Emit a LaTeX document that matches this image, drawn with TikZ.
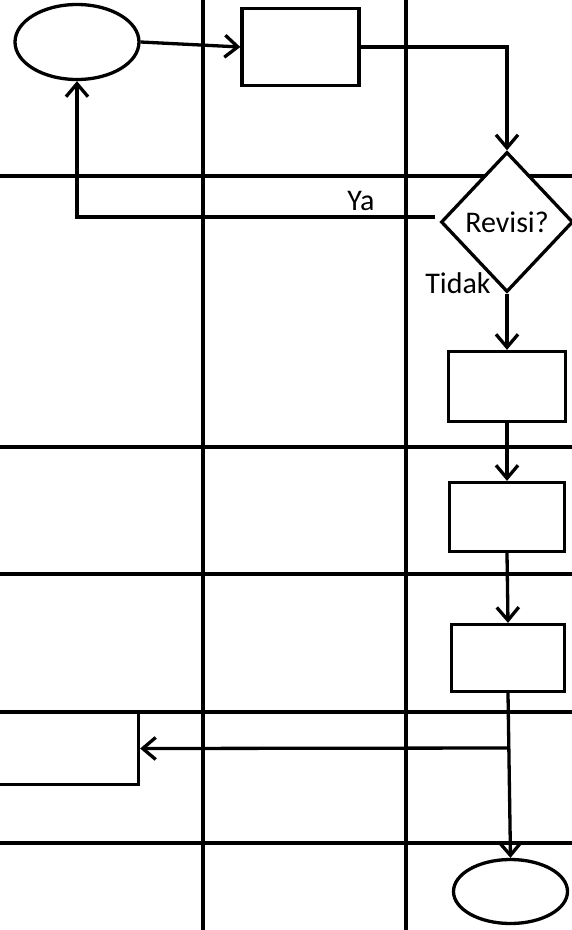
\documentclass[tikz,border=0pt]{standalone}
\usepackage{fontspec}
\setmainfont{Carlito}
\usetikzlibrary{arrows.meta,shapes.geometric}
\begin{document}
\begin{tikzpicture}[x=1pt,y=-1pt,
  gridline/.style={line width=3.3pt},
  proc/.style={draw,line width=3.3pt,fill=white,inner sep=0pt,rectangle},
  term/.style={draw,line width=3.3pt,fill=white,inner sep=0pt,ellipse},
  dec/.style={draw,line width=3.3pt,fill=white,inner sep=0pt,diamond,font=\fontsize{30}{32}\selectfont},
  conn/.style={line width=3.3pt,-{Straight Barb[length=13pt,width=22pt]}},
  lbl/.style={font=\fontsize{30}{32}\selectfont,inner sep=0pt,anchor=base}]
\clip (0,0) rectangle (572,930);
\fill[white] (0,0) rectangle (572,930);
% swimlane grid
\draw[gridline] (203,0) -- (203,930);
\draw[gridline] (406,0) -- (406,930);
\draw[gridline] (0,176) -- (572,176);
\draw[gridline] (0,447) -- (572,447);
\draw[gridline] (0,574) -- (572,574);
\draw[gridline] (0,712) -- (572,712);
\draw[gridline] (0,843) -- (572,843);
% nodes
\node[term,minimum width=124pt,minimum height=75pt] (start) at (77,42) {};
\node[proc,minimum width=117pt,minimum height=77pt] (box1) at (300.5,47) {};
\node[dec,minimum width=132pt,minimum height=140pt] (dia) at (507,222) {Revisi?};
\node[proc,minimum width=117pt,minimum height=70pt] (box2) at (507,386.5) {};
\node[proc,minimum width=115pt,minimum height=69pt] (box3) at (507,517) {};
\node[proc,minimum width=113pt,minimum height=67pt] (box4) at (508,658) {};
\node[proc,minimum width=159pt,minimum height=72pt] (lbox) at (59,748.5) {};
\node[term,minimum width=114pt,minimum height=64pt] (end) at (510.5,891.5) {};
\coordinate (j) at (508.6,748);
% connectors
\draw[conn] (start.east) -- (box1.west);
\draw[conn] (box1.east) -| (dia.north);
\draw[conn] ([shift={(-4,-5)}]dia.west) -| (start.south);
\draw[conn] (dia.south) -- (box2.north);
\draw[conn] (box2.south) -- (box3.north);
\draw[conn] (box3.south) -- (box4.north);
\draw[conn] (box4.south) -- (end.north);
\draw[conn] (j) -- (lbox.east);
% labels
\node[lbl] (ya) at (361,210) {Ya};
\node[lbl] (tidak) at (458,293) {Tidak};
\end{tikzpicture}
\end{document}
